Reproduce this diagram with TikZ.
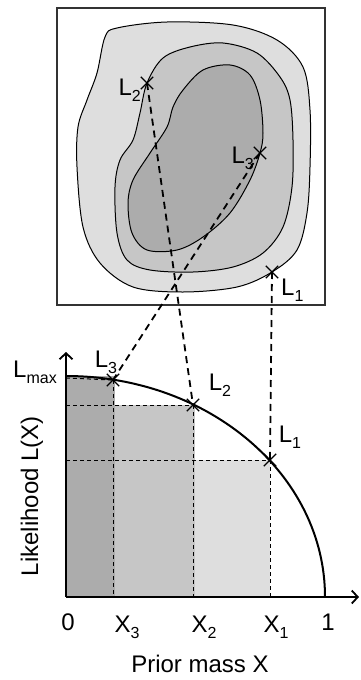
\documentclass[tikz,border=0pt]{standalone}
\usepackage{fontspec}
\setmainfont{Liberation Sans}
\usetikzlibrary{arrows.meta,shapes.misc}

\definecolor{shadeA}{HTML}{DEDEDE}
\definecolor{shadeB}{HTML}{C6C6C6}
\definecolor{shadeC}{HTML}{ACACAC}

\newcommand{\lsub}[1]{\raisebox{-0.5ex}{\fontsize{16}{16}\selectfont #1}}

\tikzset{
  mark x/.style={cross out, draw, line width=1.3pt, minimum size=11pt, inner sep=0pt},
  contour/.style={draw, line width=1pt},
  link/.style={line width=1.8pt, dash pattern=on 7pt off 5pt},
  guide/.style={line width=1pt, dash pattern=on 4pt off 3pt},
  axis/.style={line width=2pt, -{Straight Barb[length=6pt,width=13pt,line width=1.8pt]}},
  lab/.style={inner sep=0pt, font=\fontsize{24}{28}\selectfont}
}

\begin{document}
\begin{tikzpicture}[x=1pt, y=-1pt]
\useasboundingbox (0,0) rectangle (360,680);

% contour box
\draw[line width=1.2pt, draw=black!80] (57,8) rectangle (325,305);
\draw[contour, fill=shadeA] plot[smooth cycle, tension=0.55] coordinates {
  (105,37) (117,28) (167,22) (233,25) (277,40) (303,67) (310,110) (310,167)
  (307,213) (297,250) (272,272) (237,287) (183,292) (133,287) (100,263)
  (83,227) (77,167) (78,127) (87,100) (97,73)};
\draw[contour, fill=shadeB] plot[smooth cycle, tension=0.55] coordinates {
  (147,83) (163,58) (190,47) (223,43) (257,53) (280,77) (290,100) (293,140)
  (292,187) (283,227) (263,253) (233,267) (193,272) (150,270) (127,260)
  (117,233) (115,187) (120,160) (133,140) (140,113)};
\draw[contour, fill=shadeC] plot[smooth cycle, tension=0.55] coordinates {
  (183,90) (203,70) (230,65) (250,75) (260,100) (263,133) (260,153) (250,180)
  (230,213) (203,237) (177,250) (147,250) (132,233) (128,203) (133,180)
  (150,153) (167,127) (173,107)};

\node[mark x] (b2) at (147,83) {};
\node[mark x] (b3) at (260,153) {};
\node[mark x] (b1) at (272,272) {};
\node[lab, anchor=east] (tb2) at (141,90) {L\lsub{2}};
\node[lab, anchor=east] (tb3) at (254,158) {L\lsub{3}};
\node[lab, anchor=west] (tb1) at (281,290) {L\lsub{1}};

% likelihood plot
\coordinate (o) at (66,597);
\fill[shadeC] (66,376) rectangle (115,597);
\fill[shadeB] (115,405) rectangle (195,597);
\fill[shadeA] (195,460) rectangle (270,597);

\node[mark x] (p3) at (113,380) {};
\node[mark x] (p2) at (193,405) {};
\node[mark x] (p1) at (270,460) {};

\draw[guide] (66,378) -- (p3.center);
\draw[guide] (66,405) -- (p2.center);
\draw[guide] (66,460) -- (p1.center);
\draw[guide] (p3.center) -- (p3.center |- o);
\draw[guide] (p2.center) -- (p2.center |- o);
\draw[guide] (p1.center) -- (p1.center |- o);

\draw[line width=2pt] (66,376) arc[start angle=-90, end angle=0, x radius=259, y radius=221];
\draw[axis] (o) -- (66,352);
\draw[axis] (o) -- (359,597);

\draw[link] (b2.center) -- (p2.center);
\draw[link] (b3.center) -- (p3.center);
\draw[link] (b1.center) -- (p1.center);

\node[lab, anchor=east] (lmax) at (57,372) {L\lsub{max}};
\node[lab] (t3) at (106,362) {L\lsub{3}};
\node[lab] (t2) at (220,385) {L\lsub{2}};
\node[lab] (t1) at (290,437) {L\lsub{1}};
\node[lab] (x0) at (68,622) {0};
\node[lab] (x3) at (127,627) {X\lsub{3}};
\node[lab] (x2) at (204,627) {X\lsub{2}};
\node[lab] (x1) at (276,627) {X\lsub{1}};
\node[lab] (x9) at (328,622) {1};
\node[lab] (xl) at (200,664) {Prior mass X};
\node[lab, rotate=90] (yl) at (32,496) {Likelihood L(X)};
\end{tikzpicture}
\end{document}
